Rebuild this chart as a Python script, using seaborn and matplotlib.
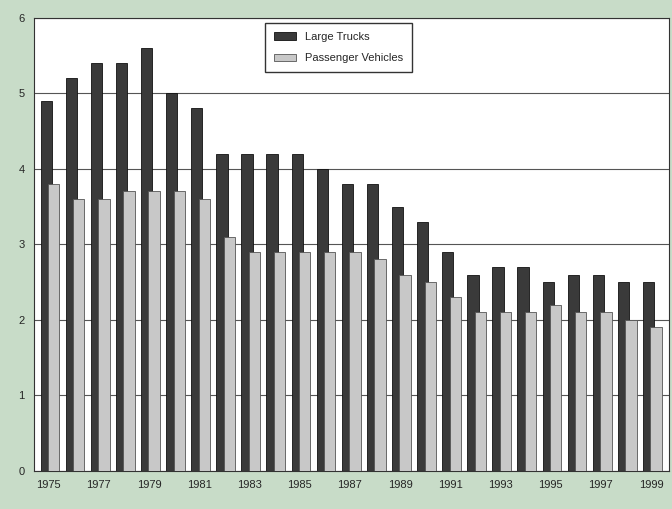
import numpy as np
import matplotlib.pyplot as plt
import seaborn as sns

years = list(range(1975, 2000))
large_trucks = [4.9, 5.2, 5.4, 5.4, 5.6, 5.0, 4.8, 4.2, 4.2, 4.2, 4.2, 4.0, 3.8,
                3.8, 3.5, 3.3, 2.9, 2.6, 2.7, 2.7, 2.5, 2.6, 2.6, 2.5, 2.5]
passenger = [3.8, 3.6, 3.6, 3.7, 3.7, 3.7, 3.6, 3.1, 2.9, 2.9, 2.9, 2.9, 2.9,
             2.8, 2.6, 2.5, 2.3, 2.1, 2.1, 2.1, 2.2, 2.1, 2.1, 2.0, 1.9]

sns.set_style("white")
plt.rcParams['font.family'] = ['Liberation Sans', 'DejaVu Sans']

fig, ax = plt.subplots(figsize=(6.72, 5.09), dpi=100)
fig.patch.set_facecolor('#c8dcc8')
ax.set_facecolor('white')

x = np.arange(len(years))
ax.bar(x - 0.1, large_trucks, width=0.45, color='#3a3a3a', edgecolor='#111111',
       linewidth=0.6, label='Large Trucks', zorder=2)
ax.bar(x + 0.2, passenger, width=0.45, color='#c8c8c8', edgecolor='#555555',
       linewidth=0.6, label='Passenger Vehicles', zorder=3)

ax.set_ylim(0, 6)
ax.set_yticks(range(7))
ax.set_xlim(-0.6, len(years) - 0.3)
ax.set_xticks(x[::2])
ax.set_xticklabels([str(y) for y in years[::2]])
ax.yaxis.grid(True, color='#555555', linewidth=0.8, zorder=0)
ax.tick_params(labelsize=8, length=3)
for s in ax.spines.values():
    s.set_color('#333333')

leg = ax.legend(loc='upper center', bbox_to_anchor=(0.48, 1.0), fontsize=8,
                frameon=True, fancybox=False, edgecolor='black', borderpad=0.8,
                labelspacing=1.0)
leg.get_frame().set_linewidth(1.0)

plt.subplots_adjust(left=0.05, right=0.995, top=0.965, bottom=0.075)
plt.savefig('out.png', dpi=100, facecolor=fig.get_facecolor())
